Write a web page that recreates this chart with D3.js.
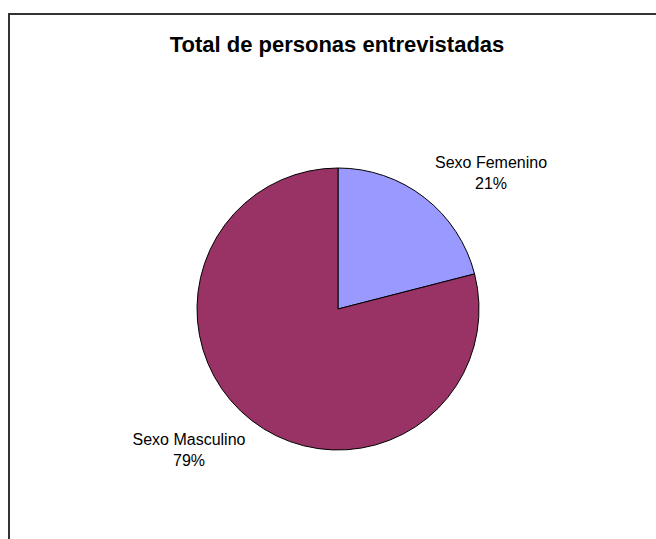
<!DOCTYPE html>
<html>
<head>
<meta charset="utf-8">
<script src="https://cdn.jsdelivr.net/npm/d3@7"></script>
<style>
  body { margin: 0; background: #fff; }
  text { font-family: "Liberation Sans", Arial, sans-serif; fill: #000; }
</style>
</head>
<body>
<div id="chart"></div>
<script>
var svgWidth = 656;
var svgHeight = 539;

var categories = ["Sexo Femenino", "Sexo Masculino"];
var values = [21, 79];
var percentLabels = ["21%", "79%"];
var colors = ["#9999FF", "#993366"];

var svg = d3.select("#chart")
  .append("svg")
  .attr("width", svgWidth)
  .attr("height", svgHeight);

// outer frame (runs past the right and bottom edges)
svg.append("rect")
  .attr("x", 9)
  .attr("y", 14)
  .attr("width", 700)
  .attr("height", 600)
  .attr("fill", "none")
  .attr("stroke", "#333")
  .attr("stroke-width", 2);

svg.append("text")
  .attr("x", 337)
  .attr("y", 52)
  .attr("text-anchor", "middle")
  .style("font-size", "22px")
  .style("font-weight", "bold")
  .text("Total de personas entrevistadas");

var cx = 338, cy = 309, radius = 141;

var pie = d3.pie().sort(null).value(d => d);
var arc = d3.arc().innerRadius(0).outerRadius(radius);

var pieGroup = svg.append("g")
  .attr("transform", `translate(${cx}, ${cy})`);

pieGroup.selectAll("path")
  .data(pie(values))
  .enter()
  .append("path")
  .attr("d", arc)
  .attr("fill", (d, i) => colors[i])
  .attr("stroke", "#000")
  .attr("stroke-width", 1);

// data labels
var labelPos = [[491, 168], [189, 445]];

var labels = svg.selectAll(".dlabel")
  .data(categories)
  .enter()
  .append("text")
  .attr("class", "dlabel")
  .attr("text-anchor", "middle")
  .style("font-size", "16px");

labels.append("tspan")
  .attr("x", (d, i) => labelPos[i][0])
  .attr("y", (d, i) => labelPos[i][1])
  .text(d => d);

labels.append("tspan")
  .attr("x", (d, i) => labelPos[i][0])
  .attr("dy", 21)
  .text((d, i) => percentLabels[i]);
</script>
</body>
</html>
